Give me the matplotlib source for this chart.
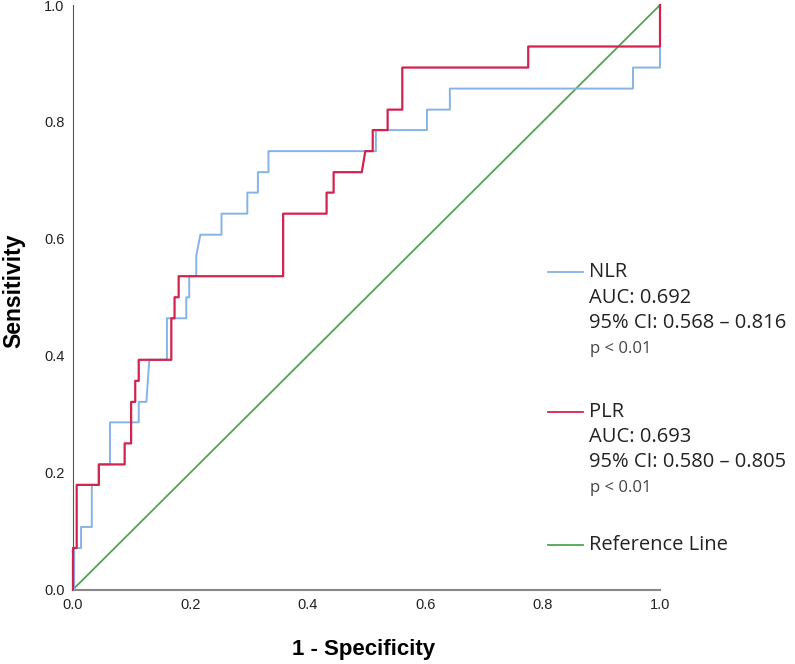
import matplotlib
matplotlib.use("Agg")
import matplotlib.pyplot as plt

# ROC vertices (1 - specificity, sensitivity)
nlr_fpr = [0.002, 0.002, 0.0137, 0.0137, 0.032, 0.032, 0.044, 0.044, 0.063, 0.063, 0.112, 0.112,
           0.125, 0.130, 0.160, 0.160, 0.193, 0.193, 0.198, 0.198, 0.210, 0.210, 0.217,
           0.253, 0.253, 0.297, 0.297, 0.315, 0.315, 0.333, 0.333, 0.516, 0.516, 0.603,
           0.603, 0.642, 0.642, 0.954, 0.954, 1.0, 1.0]
nlr_tpr = [0, 0.071, 0.071, 0.107, 0.107, 0.179, 0.179, 0.214, 0.214, 0.286, 0.286, 0.321,
           0.321, 0.393, 0.393, 0.464, 0.464, 0.500, 0.500, 0.536, 0.536, 0.571, 0.607,
           0.607, 0.643, 0.643, 0.679, 0.679, 0.714, 0.714, 0.750, 0.750, 0.786, 0.786,
           0.821, 0.821, 0.857, 0.857, 0.893, 0.893, 1.0]

plr_fpr = [0, 0, 0.0063, 0.0063, 0.044, 0.044, 0.088, 0.088, 0.099, 0.099, 0.106, 0.106,
           0.112, 0.112, 0.1675, 0.1675, 0.173, 0.173, 0.180, 0.180, 0.358, 0.358, 0.432,
           0.432, 0.444, 0.444, 0.492, 0.498, 0.5106, 0.5106, 0.536, 0.536, 0.561, 0.561,
           0.7755, 0.7755, 1.0, 1.0]
plr_tpr = [0, 0.071, 0.071, 0.179, 0.179, 0.214, 0.214, 0.250, 0.250, 0.321, 0.321, 0.357,
           0.357, 0.393, 0.393, 0.464, 0.464, 0.500, 0.500, 0.536, 0.536, 0.643, 0.643,
           0.679, 0.679, 0.714, 0.714, 0.750, 0.750, 0.786, 0.786, 0.821, 0.821, 0.893,
           0.893, 0.929, 0.929, 1.0]

ref_x = [0, 1]
ref_y = [0, 1]

ticks = [0.0, 0.2, 0.4, 0.6, 0.8, 1.0]
tick_labels = ["0.0", "0.2", "0.4", "0.6", "0.8", "1.0"]

legend_entries = [
    ("NLR", ["AUC: 0.692", "95% CI: 0.568 \u2013 0.816"], "p < 0.01"),
    ("PLR", ["AUC: 0.693", "95% CI: 0.580 \u2013 0.805"], "p < 0.01"),
    ("Reference Line", [], None),
]

c_nlr = "#86b3e6"
c_plr = "#d2234f"
c_ref = "#4fa64f"

narrow = ["Liberation Sans Narrow", "Liberation Sans", "DejaVu Sans"]

fig = plt.figure(figsize=(7.95, 6.64), dpi=100)
ax = fig.add_axes([73 / 795, (664 - 589.5) / 664, (660 - 73) / 795, (589.5 - 5) / 664])

ax.plot(ref_x, ref_y, color=c_ref, lw=1.3, clip_on=False, zorder=3)
ax.plot(nlr_fpr, nlr_tpr, color=c_nlr, lw=1.4, clip_on=False, zorder=4)
ax.plot(plr_fpr, plr_tpr, color=c_plr, lw=1.6, clip_on=False, zorder=5)

ax.set_xlim(0, 1)
ax.set_ylim(0, 1)
ax.set_xticks(ticks)
ax.set_yticks(ticks)
ax.set_xticklabels(tick_labels, family=narrow, fontsize=10.5, color="#222222")
ax.set_yticklabels(tick_labels, family=narrow, fontsize=10.5, color="#222222")
ax.tick_params(axis="x", length=0, pad=6)
ax.tick_params(axis="y", length=0, pad=6)
for s in ["top", "right"]:
    ax.spines[s].set_visible(False)
ax.spines["left"].set_color("#555555")
ax.spines["bottom"].set_color("#888888")
ax.spines["bottom"].set_linewidth(1.5)

fig.text(364 / 795, 1 - 650 / 664, "1 - Specificity", family=narrow, fontsize=16,
         fontweight="bold", ha="center", va="center")
fig.text(14 / 795, 1 - 291 / 664, "Sensitivity", family=narrow, fontsize=16.5,
         fontweight="bold", ha="center", va="center", rotation=90)

# legend drawn manually
ys = [[272, 298, 323, 349], [412, 437, 462, 488], [545]]
colors = [c_nlr, c_plr, c_ref]
for (name, lines, p), yy, col in zip(legend_entries, ys, colors):
    y0 = 1 - yy[0] / 664
    fig.add_artist(plt.Line2D([548 / 795, 583 / 795], [y0, y0], color=col, lw=1.3))
    fig.text(589 / 795, y0, name, fontsize=14.5, family="Open Sans", va="center", color="#222222")
    for i, t in enumerate(lines):
        fig.text(589 / 795, 1 - yy[i + 1] / 664, t, fontsize=14.5, family="Open Sans",
                 va="center", color="#222222")
    if p:
        fig.text(590 / 795, 1 - yy[3] / 664, p, fontsize=12, family="Open Sans",
                 va="center", color="#444444", fontweight="medium")

fig.savefig("out.png", dpi=100)
